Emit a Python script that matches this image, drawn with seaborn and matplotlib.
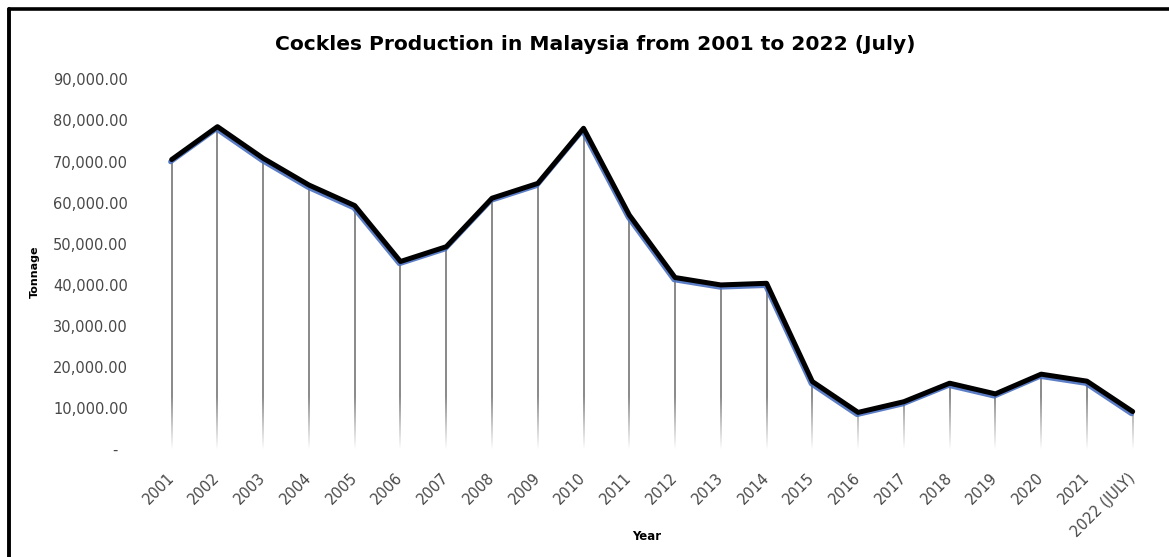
"""
Cockles production in Malaysia, 2001-2022 (July) - line with drop lines.
"""
import numpy as np
import pandas as pd
import matplotlib
matplotlib.use('Agg')
import matplotlib.pyplot as plt
import matplotlib.patheffects as pe
from matplotlib.collections import LineCollection
from matplotlib.lines import Line2D
from matplotlib.ticker import FuncFormatter
import seaborn as sns

years = ['2001', '2002', '2003', '2004', '2005', '2006', '2007', '2008',
         '2009', '2010', '2011', '2012', '2013', '2014', '2015', '2016',
         '2017', '2018', '2019', '2020', '2021', '2022 (JULY)']
tonnage = [70500, 78500, 70800, 64300, 59300, 45700, 49300, 61100,
           64700, 78100, 57000, 41800, 40000, 40400, 16500, 9000,
           11600, 16100, 13500, 18300, 16600, 9200]
y_ticks = [0, 10000, 20000, 30000, 40000, 50000, 60000, 70000, 80000, 90000]


def fmt_tonnage(v, pos):
    if v == 0:
        return '-  '
    return f'{v:,.2f}'


def main():
    df = pd.DataFrame({'idx': np.arange(len(years)), 'year': years, 'tonnage': tonnage})

    sns.set_style('white')
    plt.rcParams['font.family'] = ['DejaVu Sans']

    fig = plt.figure(figsize=(11.69, 5.57), dpi=100)
    ax = fig.add_axes([0.1273, 0.1932, 0.8612, 0.6643])

    # drop lines: gray, blending into white near zero
    gray = np.array([0.5, 0.5, 0.5])
    fade = 13000
    segs, cols = [], []
    for x, v in zip(df['idx'], df['tonnage']):
        top_fade = min(v, fade)
        ys = np.linspace(0, top_fade, 80)
        for y0, y1 in zip(ys[:-1], ys[1:]):
            segs.append([(x, y0), (x, y1)])
            a = ((y0 + y1) / 2) / fade
            cols.append(tuple(gray * a + (1 - a)))
        if v > fade:
            segs.append([(x, fade), (x, v)])
            cols.append(tuple(gray))
    ax.add_collection(LineCollection(segs, colors=cols, linewidths=1.3,
                                     capstyle='butt', zorder=1))

    sns.lineplot(data=df, x='idx', y='tonnage', ax=ax, color='black',
                 linewidth=3.6, zorder=3,
                 path_effects=[pe.SimpleLineShadow(offset=(-0.8, -1.6), shadow_color='#4a70c0',
                                                   alpha=0.9),
                               pe.Normal()])

    ax.set_xlim(-0.5, len(years) - 0.5)
    ax.set_ylim(0, 90000)
    ax.set_yticks(y_ticks)
    ax.yaxis.set_major_formatter(FuncFormatter(fmt_tonnage))
    ax.set_xticks(df['idx'])
    ax.set_xticklabels(years, rotation=45, ha='right', va='center', rotation_mode='anchor')
    ax.tick_params(axis='both', length=0, labelsize=10.5, labelcolor='#484848')
    ax.tick_params(axis='y', pad=15)
    ax.tick_params(axis='x', pad=19)
    for s in ax.spines.values():
        s.set_visible(False)
    ax.grid(False)

    ax.set_xlabel('Year', fontsize=8.5, fontweight='bold', color='black')
    ax.set_ylabel('Tonnage', fontsize=8, fontweight='bold', color='black')
    ax.xaxis.set_label_coords(0.495, -0.218)
    ax.yaxis.set_label_coords(-0.108, 0.479)

    fig.text(595 / 1169, 1 - 45 / 557, 'Cockles Production in Malaysia from 2001 to 2022 (July)',
             ha='center', va='center', fontsize=14.6, fontweight='bold', color='black')

    # black frame on top and left, like the cropped screenshot
    fig.add_artist(Line2D([9 / 1169, 1], [1 - 9 / 557, 1 - 9 / 557], color='black', linewidth=2.6))
    fig.add_artist(Line2D([9 / 1169, 9 / 1169], [0, 1 - 9 / 557], color='black', linewidth=2.8))

    fig.savefig('out.png', dpi=100)
    plt.close(fig)


if __name__ == '__main__':
    main()
